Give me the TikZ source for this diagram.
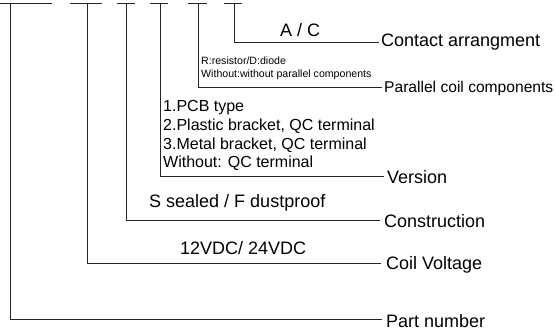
\documentclass[tikz,border=0pt]{standalone}
\usepackage{fontspec}
\setmainfont{Liberation Sans}
\begin{document}
\begin{tikzpicture}[x=1pt,y=-1pt,
  ln/.style={line width=0.9pt,black!85},
  lbl/.style={anchor=west,inner sep=0pt,font=\fontsize{18}{20}\selectfont},
  desc/.style={anchor=west,inner sep=0pt,font=\fontsize{18}{20}\selectfont},
  vdesc/.style={anchor=west,inner sep=0pt,font=\fontsize{16}{18}\selectfont},
  sdesc/.style={anchor=west,inner sep=0pt,font=\fontsize{10.6}{12}\selectfont}]
\useasboundingbox (0,0) rectangle (555,331);
% top bars
\foreach \a/\b/\n in {0/52/1,70/102/2,117/135/3,150/168/4,188/207/5,224/242/6}{
  \coordinate (bl\n) at (\a,3.5);
  \coordinate (br\n) at (\b,3.5);
  \draw[ln] (bl\n) -- (br\n);
}
\coordinate (t1) at (10,3.5);
\coordinate (t2) at (87,3.5);
\coordinate (t3) at (126,3.5);
\coordinate (t4) at (160,3.5);
\coordinate (t5) at (198,3.5);
\coordinate (t6) at (234,3.5);
% labels (text centre sits slightly below the leader line)
\node[lbl] (contact) at (381,42) {Contact arrangment};
\node[lbl,font=\fontsize{15.6}{18}\selectfont] (parallel) at (384,88.5) {Parallel coil components};
\node[lbl] (version) at (387,177.5) {Version};
\node[lbl] (construction) at (384,221.5) {Construction};
\node[lbl] (coil) at (386,265) {Coil Voltage};
\node[lbl] (part) at (386,321) {Part number};
% connectors
\draw[ln] (t6) |- ([xshift=-2pt]contact.west);
\draw[ln] (t5) |- ([xshift=-2pt,yshift=1.5pt]parallel.west);
\draw[ln] (t4) |- ([xshift=-3pt,yshift=1.5pt]version.west);
\draw[ln] (t3) |- ([xshift=-4pt,yshift=1.5pt]construction.west);
\draw[ln] (t2) |- ([xshift=-5pt,yshift=2pt]coil.west);
\draw[ln] (t1) |- ([xshift=-4pt,yshift=2pt]part.west);
% descriptions
\node[desc] (ac) at (280,30) {A / C};
\node[sdesc] (rd) at (201,61) {R:resistor/D:diode};
\node[sdesc] (wo) at (201,75) {Without:without parallel components};
\node[vdesc] (v1) at (163,108) {1.PCB type};
\node[vdesc] (v2) at (163,126.5) {2.Plastic bracket, QC terminal};
\node[vdesc] (v3) at (163,145) {3.Metal bracket, QC terminal};
\node[vdesc] (v4) at (163,163.5) {Without: QC terminal};
\node[desc] (sf) at (149,203) {S sealed / F dustproof};
\node[desc] (vdc) at (180,248) {12VDC/ 24VDC};
\end{tikzpicture}
\end{document}
